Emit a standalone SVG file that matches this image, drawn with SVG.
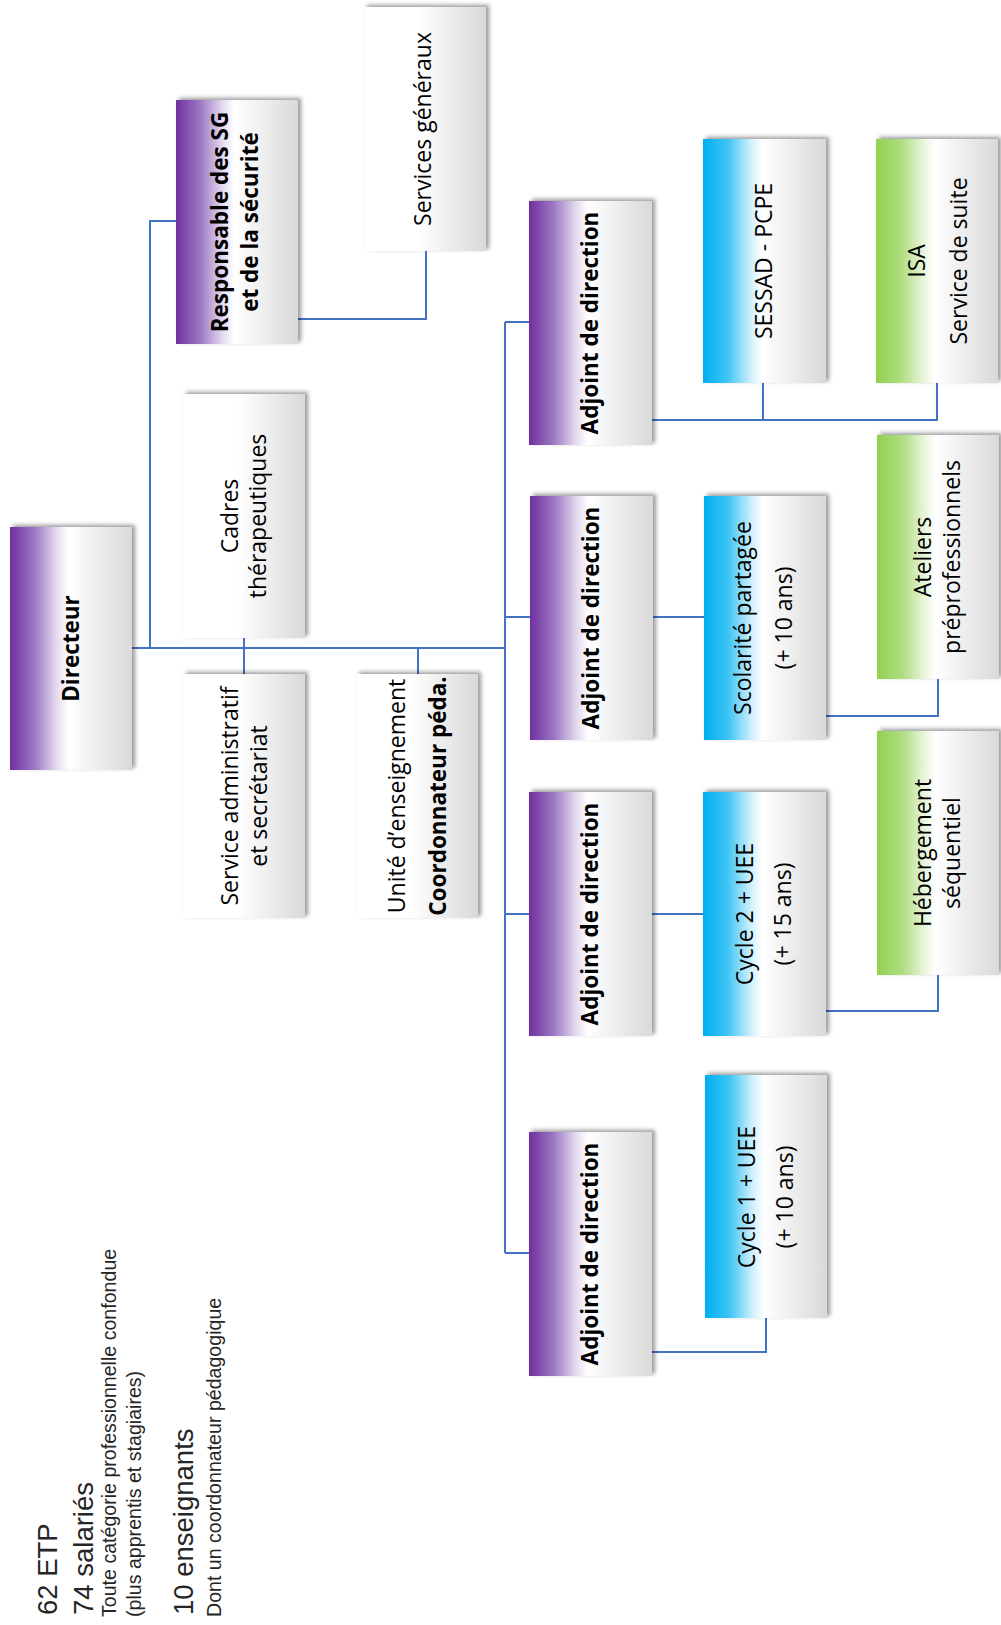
<svg xmlns="http://www.w3.org/2000/svg" width="1001" height="1625" viewBox="0 0 1001 1625">
<style>
.box{filter:url(#sh);}
.t{font-family:"Open Sans","Noto Sans",sans-serif;font-size:23px;fill:#000;text-anchor:middle;}
.b{font-weight:bold;font-size:22.5px;}
.c{fill:none;stroke:#4472C4;stroke-width:2;}
.info{font-family:"Liberation Sans",Arial,sans-serif;fill:#262626;}
.big{font-size:27.5px;}
.small{font-size:19.6px;}
</style>
<defs>
<filter id="sh" x="-10%" y="-10%" width="125%" height="120%">
<feDropShadow dx="3" dy="-2" stdDeviation="2" flood-color="#000" flood-opacity="0.4"/>
</filter>
<linearGradient id="gP" x1="0" y1="0" x2="1" y2="0">
<stop offset="0" stop-color="#7030A0"/>
<stop offset="0.2" stop-color="#9C78C3"/>
<stop offset="0.38" stop-color="#E4D9EF"/>
<stop offset="0.48" stop-color="#FFFFFF"/>
<stop offset="0.6" stop-color="#F6F6F6"/>
<stop offset="1" stop-color="#D9D9D9"/>
</linearGradient>
<linearGradient id="gB" x1="0" y1="0" x2="1" y2="0">
<stop offset="0" stop-color="#00B0F0"/>
<stop offset="0.2" stop-color="#3EC4F4"/>
<stop offset="0.38" stop-color="#C9EEFC"/>
<stop offset="0.48" stop-color="#FFFFFF"/>
<stop offset="0.6" stop-color="#F6F6F6"/>
<stop offset="1" stop-color="#D9D9D9"/>
</linearGradient>
<linearGradient id="gG" x1="0" y1="0" x2="1" y2="0">
<stop offset="0" stop-color="#92D050"/>
<stop offset="0.2" stop-color="#AEDC7E"/>
<stop offset="0.38" stop-color="#E5F4D6"/>
<stop offset="0.48" stop-color="#FFFFFF"/>
<stop offset="0.6" stop-color="#F6F6F6"/>
<stop offset="1" stop-color="#D9D9D9"/>
</linearGradient>
<linearGradient id="gW" x1="0" y1="0" x2="1" y2="0">
<stop offset="0" stop-color="#FFFFFF"/>
<stop offset="0.45" stop-color="#FFFFFF"/>
<stop offset="1" stop-color="#D9D9D9"/>
</linearGradient>
</defs>

<g id="connectors">
<path class="c" d="M132,648 H505"/>
<path class="c" d="M150,648 V221 H176"/>
<path class="c" d="M298,319 H426 V251"/>
<path class="c" d="M244,638 V674"/>
<path class="c" d="M418,648 V674"/>
<path class="c" d="M505,322 V1253"/>
<path class="c" d="M505,322 H529"/>
<path class="c" d="M505,617 H530"/>
<path class="c" d="M505,914 H529"/>
<path class="c" d="M505,1253 H529"/>
<path class="c" d="M652,420 H937 V383"/>
<path class="c" d="M763,420 V383"/>
<path class="c" d="M653,617 H704"/>
<path class="c" d="M826,716 H938 V679"/>
<path class="c" d="M652,914 H703"/>
<path class="c" d="M826,1011 H938 V975"/>
<path class="c" d="M652,1352 H766 V1318"/>
</g>

<g id="directeur">
<rect class="box" x="10" y="527" width="122" height="243" fill="url(#gP)"/>
<text class="t b" transform="translate(79,648.5) rotate(-90)">Directeur</text>
</g>

<g id="responsable-sg">
<rect class="box" x="176" y="100" width="122" height="244" fill="url(#gP)"/>
<text class="t b" transform="translate(228,222) rotate(-90)">Responsable des SG</text>
<text class="t b" transform="translate(258,222) rotate(-90)">et de la sécurité</text>
</g>

<g id="services-generaux">
<rect class="box" x="364" y="7" width="122" height="244" fill="url(#gW)"/>
<text class="t" transform="translate(431,129) rotate(-90)">Services généraux</text>
</g>

<g id="cadres">
<rect class="box" x="183" y="394" width="122" height="244" fill="url(#gW)"/>
<text class="t" transform="translate(238,516) rotate(-90)">Cadres</text>
<text class="t" transform="translate(266,516) rotate(-90)">thérapeutiques</text>
</g>

<g id="service-admin">
<rect class="box" x="183" y="674" width="122" height="244" fill="url(#gW)"/>
<text class="t" transform="translate(238,796) rotate(-90)">Service administratif</text>
<text class="t" transform="translate(267,796) rotate(-90)">et secrétariat</text>
</g>

<g id="unite-enseignement">
<rect class="box" x="356" y="674" width="122" height="244" fill="url(#gW)"/>
<text class="t" transform="translate(405,796) rotate(-90)">Unité d’enseignement</text>
<text class="t b" transform="translate(446,796) rotate(-90)">Coordonnateur  péda.</text>
</g>

<g id="adjoint-1">
<rect class="box" x="529" y="201" width="123" height="244" fill="url(#gP)"/>
<text class="t b" transform="translate(598,323) rotate(-90)">Adjoint de direction</text>
</g>

<g id="adjoint-2">
<rect class="box" x="530" y="496" width="123" height="244" fill="url(#gP)"/>
<text class="t b" transform="translate(599,618) rotate(-90)">Adjoint de direction</text>
</g>

<g id="adjoint-3">
<rect class="box" x="529" y="792" width="123" height="244" fill="url(#gP)"/>
<text class="t b" transform="translate(598,914) rotate(-90)">Adjoint de direction</text>
</g>

<g id="adjoint-4">
<rect class="box" x="529" y="1132" width="123" height="244" fill="url(#gP)"/>
<text class="t b" transform="translate(598,1254) rotate(-90)">Adjoint de direction</text>
</g>

<g id="sessad">
<rect class="box" x="703" y="139" width="123" height="244" fill="url(#gB)"/>
<text class="t" transform="translate(772,261) rotate(-90)">SESSAD - PCPE</text>
</g>

<g id="isa">
<rect class="box" x="876" y="139" width="122" height="244" fill="url(#gG)"/>
<text class="t" transform="translate(925,261) rotate(-90)">ISA</text>
<text class="t" transform="translate(967,261) rotate(-90)">Service de suite</text>
</g>

<g id="scolarite">
<rect class="box" x="704" y="496" width="122" height="244" fill="url(#gB)"/>
<text class="t" transform="translate(751,618) rotate(-90)">Scolarité partagée</text>
<text class="t" transform="translate(792,618) rotate(-90)">(+ 10 ans)</text>
</g>

<g id="ateliers">
<rect class="box" x="877" y="435" width="122" height="244" fill="url(#gG)"/>
<text class="t" transform="translate(931,557) rotate(-90)">Ateliers</text>
<text class="t" transform="translate(960,557) rotate(-90)">préprofessionnels</text>
</g>

<g id="cycle-2">
<rect class="box" x="703" y="792" width="123" height="244" fill="url(#gB)"/>
<text class="t" transform="translate(753,914) rotate(-90)">Cycle 2 + UEE</text>
<text class="t" transform="translate(791,914) rotate(-90)">(+ 15 ans)</text>
</g>

<g id="hebergement">
<rect class="box" x="877" y="731" width="122" height="244" fill="url(#gG)"/>
<text class="t" transform="translate(931,853) rotate(-90)">Hébergement</text>
<text class="t" transform="translate(960,853) rotate(-90)">séquentiel</text>
</g>

<g id="cycle-1">
<rect class="box" x="705" y="1075" width="122" height="243" fill="url(#gB)"/>
<text class="t" transform="translate(755,1197) rotate(-90)">Cycle 1 + UEE</text>
<text class="t" transform="translate(793,1197) rotate(-90)">(+ 10 ans)</text>
</g>

<g id="effectifs">
<text class="info big" transform="translate(57,1615) rotate(-90)">62 ETP</text>
<text class="info big" transform="translate(93,1615) rotate(-90)">74 salariés</text>
<text class="info small" transform="translate(116,1617) rotate(-90)">Toute catégorie professionnelle confondue</text>
<text class="info small" transform="translate(141,1617) rotate(-90)">(plus apprentis et stagiaires)</text>
<text class="info big" transform="translate(193,1615) rotate(-90)">10 enseignants</text>
<text class="info small" transform="translate(221,1617) rotate(-90)">Dont un coordonnateur pédagogique</text>
</g>
</svg>
